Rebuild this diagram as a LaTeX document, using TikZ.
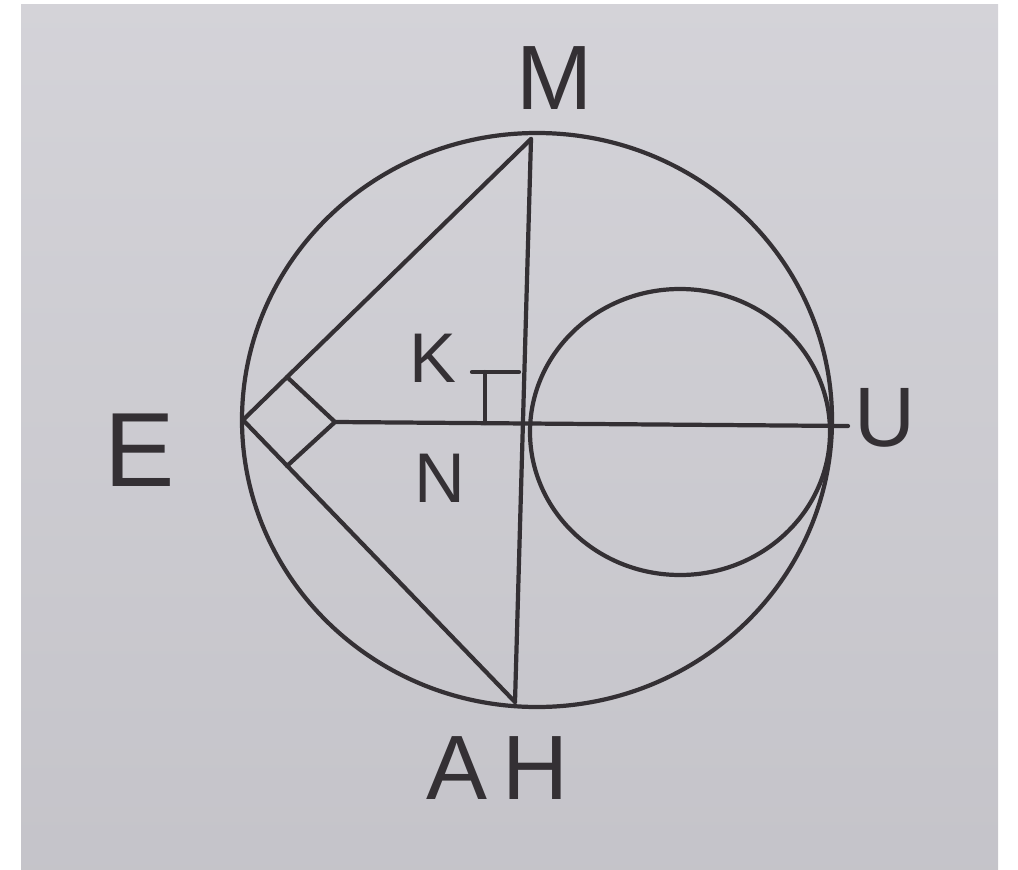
\documentclass[tikz,border=0pt]{standalone}
\usepackage{xcolor}
\usepackage{fontspec}
\setmainfont{Liberation Sans}
\usepackage{tikz}
\usetikzlibrary{positioning}

\definecolor{paper}{RGB}{207,206,212}
\definecolor{pencil}{RGB}{52,48,52}

\begin{document}
\begin{tikzpicture}[
  x=0.01cm, y=-0.01cm,
  line/.style={draw=pencil,line width=1.2pt,line cap=round,line join=round},
  lbl/.style={text=pencil,inner sep=0pt,font=\fontsize{26}{30}\selectfont},
  small/.style={text=pencil,inner sep=0pt,font=\fontsize{20}{24}\selectfont}
]
  \useasboundingbox (0,0) rectangle (1018,870);
  \fill[top color=paper!90!white,bottom color=paper!95!black] (21,5) rectangle (998,870);

  % points
  \coordinate (O) at (537,420);
  \coordinate (C) at (680,432);
  \coordinate (M) at (531,139);
  \coordinate (H) at (515,702);
  \coordinate (E) at (243,420);
  \coordinate (R) at (335,422);
  \coordinate (U) at (848,426);
  \coordinate (P) at (287,377);
  \coordinate (Q) at (287,466);

  % circles
  \draw[line] (O) ellipse [x radius=295, y radius=287];
  \draw[line] (C) ellipse [x radius=150, y radius=143];

  % segments
  \draw[line] (E) -- (M);
  \draw[line] (E) -- (H);
  \draw[line] (M) -- (H);
  \draw[line] (R) -- (U);

  % right angle marks
  \draw[line] (P) -- (R) -- (Q);
  \coordinate (k1) at (485,423);
  \coordinate (k2) at (485,372);
  \coordinate (k3) at (472,372);
  \coordinate (k4) at (519,372);
  \draw[line] (k1) -- (k2);
  \draw[line] (k3) -- (k4);

  % labels
  \node[lbl] (lM) at (555,78) {M};
  \node[lbl,font=\fontsize{30}{34}\selectfont] (lE) at (140,450) {E};
  \node[small,font=\fontsize{24}{28}\selectfont] (lU) at (885,418) {U};
  \node[small] (lK) at (433,358) {K};
  \node[small] (lN) at (440,478) {N};
  \node[lbl] (lA) at (457,768) {A};
  \node[lbl,right=4pt of lA] (lH) {H};
\end{tikzpicture}
\end{document}
